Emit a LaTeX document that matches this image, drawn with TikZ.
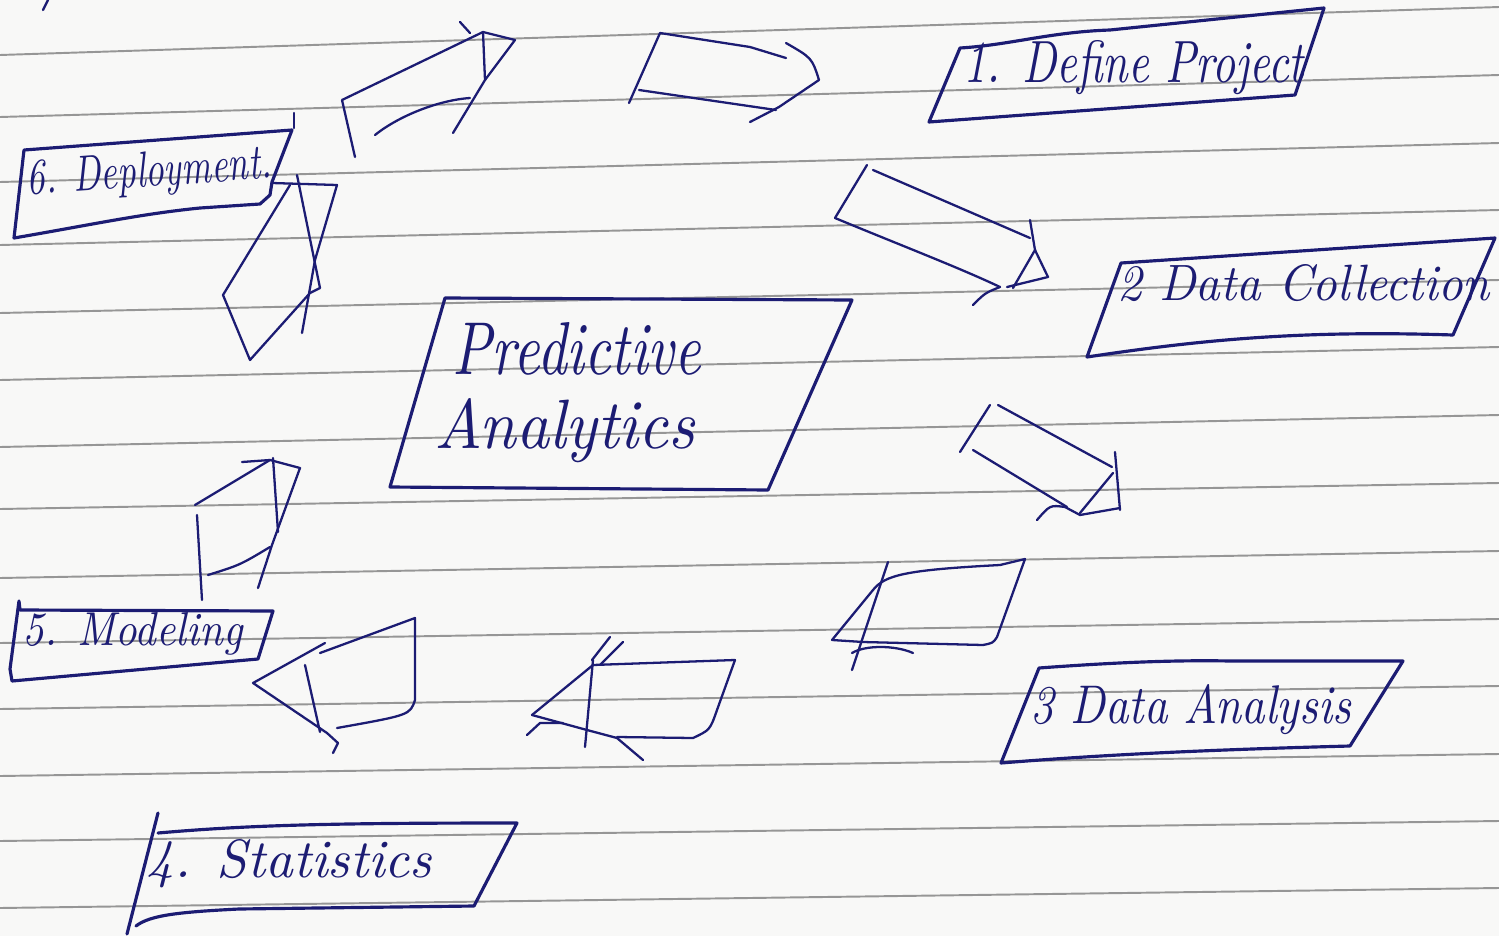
\documentclass[tikz,border=0pt]{standalone}
\usepackage{graphicx}
\definecolor{ink}{RGB}{28,28,115}
\definecolor{paper}{RGB}{248,248,247}
\definecolor{rulegray}{RGB}{150,150,150}
\tikzset{
  box/.style={draw=ink, line width=0.9pt, line join=round, line cap=round},
  blockarrow/.style={draw=ink, line width=0.65pt, line join=round, line cap=round},
  hand/.style={text=ink, inner sep=0pt, anchor=base west},
  ruled/.style={draw=rulegray, line width=0.55pt},
}
\newcommand{\hw}[3]{\resizebox{#1}{#2}{\itshape #3}}
\begin{document}
\begin{tikzpicture}[x=0.01cm,y=-0.01cm]
\fill[paper] (0,0) rectangle (1499,936);
\useasboundingbox (0,0) rectangle (1499,936);
% ruled paper
\foreach \l/\r in {55/7,117/75,182/143,245/210,313/280,380/347,447/415,509/483,578/551,643/619,709/686,776/754,841/821,908/888}
  \draw[ruled] (0,\l) -- (1499,\r);
% stray marks
\draw[blockarrow] (43,10) -- (48,0);
\draw[blockarrow] (294,113) -- (294,128);

% ---------- centre box ----------
\draw[box] (445,298) -- (852,300) -- (768,490) -- (390,487) -- cycle;
\node[hand] (pred) at (452,374) {\hw{2.48cm}{0.52cm}{Predictive}};
\node[hand] (anal) at (434,448) {\hw{2.6cm}{0.5cm}{Analytics}};

% ---------- 1. Define Project ----------
\draw[box] (960,48) .. controls (1010,45) and (1050,32) .. (1110,30) -- (1324,8) -- (1295,95) -- (929,122) -- cycle;
\node[hand] (s1) at (963,82) {\hw{3.4cm}{0.42cm}{1. Define Project}};

% ---------- 2. Data Collection ----------
\draw[box] (1121,263) -- (1495,238) -- (1453,335) .. controls (1300,330) and (1200,340) .. (1087,357) -- cycle;
\node[hand] (s2) at (1117,300) {\hw{3.72cm}{0.36cm}{2 Data Collection}};

% ---------- 3. Data Analysis ----------
\draw[box] (1039,668) .. controls (1120,662) and (1180,660) .. (1230,661) -- (1403,661) -- (1350,746) .. controls (1200,750) and (1100,755) .. (1001,763) -- cycle;
\node[hand] (s3) at (1030,723) {\hw{3.2cm}{0.39cm}{3 Data Analysis}};

% ---------- 4. Statistics ----------
\draw[box] (158,813) -- (127,934);
\draw[box] (158,833) .. controls (250,825) and (330,823) .. (517,823) -- (474,906) -- (239,909) .. controls (180,912) and (150,915) .. (136,926);
\node[hand] (s4) at (146,877) {\hw{2.85cm}{0.38cm}{4. Statistics}};

% ---------- 5. Modeling ----------
\draw[box] (19,601) -- (20,610) -- (273,611) -- (258,659) -- (12,681) -- (10,669) -- (19,601);
\node[hand] (s5) at (22,645) {\hw{2.2cm}{0.33cm}{5. Modeling}};

% ---------- 6. Deployment ----------
\draw[box] (24,150) -- (292,130) -- (272,182) -- (270,195) -- (260,204) -- (200,208) .. controls (140,214) and (90,225) .. (14,238) -- cycle;
\node[hand, rotate=4] (s6) at (27,195) {\hw{2.45cm}{0.35cm}{6. Deployment.}};

% ---------- block arrows ----------
% A1 (6 -> 1, left)
\draw[blockarrow] (355,157) -- (342,100) -- (483,32);
\draw[blockarrow] (375,135) .. controls (400,115) and (440,100) .. (470,98);
\draw[blockarrow] (483,32) -- (485,80) -- (453,133);
\draw[blockarrow] (483,32) -- (515,40) -- (485,80);
\draw[blockarrow] (460,22) -- (470,33);
% A2 (6 -> 1, right)
\draw[blockarrow] (629,103) -- (660,33) -- (750,47) -- (786,58);
\draw[blockarrow] (639,90) -- (776,110);
\draw[blockarrow] (786,43) .. controls (812,58) .. (819,80) -- (779,107) -- (750,122);
% A3 (1 -> 2)
\draw[blockarrow] (867,165) -- (835,218);
\draw[blockarrow] (873,170) -- (1030,238);
\draw[blockarrow] (835,218) .. controls (900,245) and (960,268) .. (1000,287);
\draw[blockarrow] (1030,220) -- (1035,250) -- (1013,288);
\draw[blockarrow] (1035,250) -- (1048,277) -- (1007,287);
\draw[blockarrow] (973,305) .. controls (985,293) .. (1000,287);
% A4 (2 -> 3)
\draw[blockarrow] (990,405) -- (960,452);
\draw[blockarrow] (998,405) -- (1112,467);
\draw[blockarrow] (973,450) -- (1067,507);
\draw[blockarrow] (1115,452) -- (1120,510);
\draw[blockarrow] (1113,473) -- (1080,513);
\draw[blockarrow] (1037,520) .. controls (1050,505) .. (1065,507) -- (1080,515) -- (1120,508);
% A5 (3 -> 4, right)
\draw[blockarrow] (888,562) -- (852,670);
\draw[blockarrow] (832,640) -- (873,590) .. controls (885,575) and (905,570) .. (1000,565) -- (1025,559) -- (997,637) .. controls (993,643) .. (983,645) -- (863,642) -- (832,640);
\draw[blockarrow] (852,653) .. controls (865,645) and (895,645) .. (913,653);
% A6 (3 -> 4, left)
\draw[blockarrow] (610,637) -- (592,660);
\draw[blockarrow] (623,642) -- (600,665);
\draw[blockarrow] (532,715) -- (593,665) -- (735,660) -- (717,710) .. controls (710,730) .. (693,738) -- (617,737);
\draw[blockarrow] (532,715) -- (587,730) -- (617,738) -- (643,760);
\draw[blockarrow] (527,735) -- (540,723) -- (563,723);
\draw[blockarrow] (593,660) -- (585,747);
% A7 (4 -> 5)
\draw[blockarrow] (320,653) -- (415,618) -- (415,700) .. controls (410,715) .. (337,728);
\draw[blockarrow] (325,643) -- (253,683) -- (327,733) -- (338,743) -- (333,753);
\draw[blockarrow] (305,665) -- (320,732);
% A8 (5 -> 6, lower)
\draw[blockarrow] (242,462) -- (270,460);
\draw[blockarrow] (195,505) -- (270,460) -- (300,468) -- (272,545) -- (258,588);
\draw[blockarrow] (273,458) -- (278,532);
\draw[blockarrow] (197,515) -- (202,600);
\draw[blockarrow] (208,575) .. controls (240,565) .. (270,547);
% A9 (5 -> 6, upper)
\draw[blockarrow] (272,183) -- (337,185) -- (315,260) -- (302,333);
\draw[blockarrow] (297,175) -- (320,288) -- (310,293) -- (250,360) -- (223,295) -- (290,185);
\end{tikzpicture}
\end{document}
